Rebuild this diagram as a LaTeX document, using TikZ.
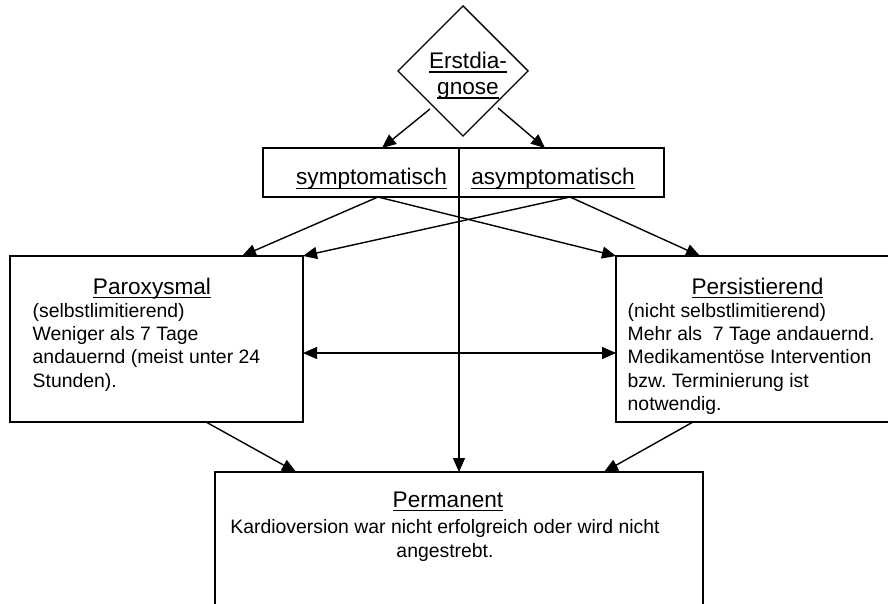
\documentclass[tikz,border=0pt]{standalone}
\usepackage{fontspec}
\setmainfont{Liberation Sans}
\frenchspacing
\usetikzlibrary{arrows.meta,shapes.geometric,calc}

% word-processor style underline: fixed distance below the baseline
\newcommand\ulword[1]{\setbox0=\hbox{#1}\rlap{\vrule height -2.6pt depth 4.2pt width \wd0}\box0}

\begin{document}
\begin{tikzpicture}[x=1pt,y=-1pt,line width=1.4pt,
  box/.style={draw,rectangle,inner sep=0pt,outer sep=0pt},
  arr/.style={-{Triangle[length=14pt,width=12pt]}},
  darr/.style={{Triangle[length=14pt,width=12pt]}-{Triangle[length=14pt,width=12pt]}},
  title/.style={font=\fontsize{22.6}{26}\selectfont,inner sep=0pt,anchor=base},
  body/.style={font=\fontsize{19.4}{23.3}\selectfont,inner sep=0pt,anchor=base west},
  bodyc/.style={font=\fontsize{19.4}{23.3}\selectfont,inner sep=0pt,anchor=base}]

\useasboundingbox (0,0) rectangle (888,604);
\clip (0,0) rectangle (888,604);
\fill[white] (0,0) rectangle (888,604);

% shapes
\node[draw,diamond,minimum width=130pt,minimum height=130pt,inner sep=0pt,outer sep=0pt] (erst) at (463,71) {};
\node[box,minimum width=401pt,minimum height=49pt] (cls) at (463.5,172.5) {};
\node[box,minimum width=293pt,minimum height=166pt] (parox) at (156.5,339) {};
\node[box,minimum width=344pt,minimum height=166pt] (pers) at (788,339) {};
\node[box,minimum width=488pt,minimum height=178pt] (perm) at (459,561) {};

% labels
\node[title] (t1) at (468,68.5) {\ulword{Erstdia-}};
\node[title] (t2) at (468,94.5) {\ulword{gnose}};
\node[title] (sym) at (371.5,185) {\ulword{symptomatisch}};
\node[title] (asym) at (553,185) {\ulword{asymptomatisch}};
\node[title] (pxt) at (152,294) {\ulword{Paroxysmal}};
\node[title] (pst) at (757.5,294) {\ulword{Persistierend}};
\node[title] (pmt) at (448,507) {\ulword{Permanent}};

\foreach \t [count=\i] in {{(selbstlimitierend)},{Weniger als 7 Tage},{andauernd (meist unter 24},{Stunden).}}
  \node[body] (pxl\i) at (32,{294+23.3*\i}) {\t};
\foreach \t [count=\i] in {{(nicht selbstlimitierend)},{Mehr als \ 7 Tage andauernd.},{Medikament\"ose Intervention},{bzw. Terminierung ist},{notwendig.}}
  \node[body] (psl\i) at (627,{294+23.3*\i}) {\t};
\node[bodyc] (pml1) at (445,533) {Kardioversion war nicht erfolgreich oder wird nicht};
\node[bodyc] (pml2) at (445,557) {angestrebt.};

% connectors
\draw[arr] ($(erst.center)+(-33,38)$) -- ($(cls.north west)+(119,0)$);
\draw[arr] ($(erst.center)+(35,37)$) -- ($(cls.north west)+(282,0)$);
\draw[arr] ($(cls.north west)+(196,0)$) -- ($(perm.north west)+(244,0)$);

\draw[arr] ($(cls.south west)+(115,0)$) -- ($(parox.north west)+(232,0)$);
\draw[arr] ($(cls.south west)+(115,0)$) -- (pers.north west);
\draw[arr] ($(cls.south west)+(307,0)$) -- (parox.north east);
\draw[arr] ($(cls.south west)+(307,0)$) -- ($(pers.north west)+(84,0)$);

\draw[darr] ($(parox.north east)+(0,97)$) -- ($(pers.north west)+(0,97)$);

\draw[arr] ($(parox.south west)+(196,0)$) -- ($(perm.north west)+(81,0)$);
\draw[arr] ($(pers.south west)+(77,0)$) -- ($(perm.north west)+(389,0)$);
\end{tikzpicture}
\end{document}
